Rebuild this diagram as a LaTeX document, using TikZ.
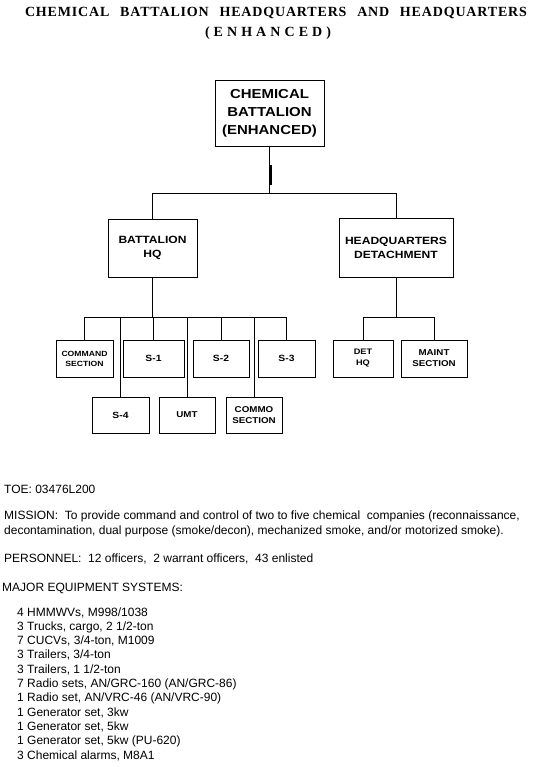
\documentclass[tikz,border=0pt]{standalone}
\usepackage{fontspec}
\setmainfont{Liberation Sans}
\newfontfamily\titlefont{Liberation Serif}[LetterSpace=6]
\newfontfamily\chartfont{Liberation Sans}[FakeStretch=1.15]
\usetikzlibrary{calc}
\newcommand{\setfs}[2]{\fontsize{#1}{#2}\selectfont}
\tikzset{
  orgbox/.style={draw,line width=0.8pt,align=center,inner sep=1pt},   % org chart box
  topbox/.style={orgbox,font=\chartfont\bfseries\setfs{13}{18}},      % battalion
  midbox/.style={orgbox,font=\chartfont\bfseries\setfs{10.5}{14}},    % HQ / detachment
  subbox/.style={orgbox,minimum height=37pt,font=\chartfont\bfseries\setfs{8.5}{11}},
  link/.style={line width=0.8pt},
  txt/.style={anchor=west,inner sep=0pt,align=left,font=\setfs{12}{15}},
  head/.style={inner sep=0pt,font=\titlefont\bfseries\setfs{14}{16}}
}

\begin{document}
\begin{tikzpicture}[x=1pt,y=-1pt]
  \path[use as bounding box,fill=white] (0,0) rectangle (550,767);

  % heading
  \node[head] (title) at (276,13)
    {\makebox[502pt][s]{CHEMICAL BATTALION HEADQUARTERS AND HEADQUARTERS}};
  \node[head] (title2) at (268,33)
    {\makebox[126pt][s]{( E N H A N C E D )}};

  % chart
  \node[topbox,minimum width=109pt,minimum height=66pt] (bn) at (269.5,113)
    {CHEMICAL\\BATTALION\\(ENHANCED)};
  \node[midbox,minimum width=89pt,minimum height=58pt] (bhq) at (152.5,248)
    {BATTALION\\HQ};
  \node[midbox,minimum width=114pt,minimum height=59pt] (hqd) at (396,247.5)
    {HEADQUARTERS\\DETACHMENT};

  \node[subbox,minimum width=57pt,font=\chartfont\bfseries\setfs{7.5}{10}] (cmd) at (84.5,358.5)
    {COMMAND\\SECTION};
  \node[subbox,minimum width=61pt,font=\chartfont\bfseries\setfs{9}{11}] (s1) at (153.5,358.5) {S-1};
  \node[subbox,minimum width=56pt,font=\chartfont\bfseries\setfs{9}{11}] (s2) at (221,358.5) {S-2};
  \node[subbox,minimum width=57pt,font=\chartfont\bfseries\setfs{9}{11}] (s3) at (286.5,358.5) {S-3};
  \node[subbox,minimum width=57pt,minimum height=36pt,font=\chartfont\bfseries\setfs{9}{11}] (s4) at (120.5,415) {S-4};
  \node[subbox,minimum width=56pt,minimum height=36pt,font=\chartfont\bfseries\setfs{8.5}{11}] (umt) at (187,415) {UMT};
  \node[subbox,minimum width=56pt,minimum height=36pt] (commo) at (254,415)
    {COMMO\\SECTION};
  \node[subbox,minimum width=60pt,font=\chartfont\bfseries\setfs{8}{11}] (dethq) at (363,358.5)
    {DET\\HQ};
  \node[subbox,minimum width=66pt] (maint) at (434,358.5)
    {MAINT\\SECTION};

  \coordinate (bus1) at (270,193);
  \coordinate (bus2) at (153,317);
  \coordinate (bus3) at (398,317);
  \coordinate (bar) at (270,165);

  \draw[link] (bn.south) -- (bn.south |- bus1);
  \draw[line width=3pt] (bar) -- ++(0,20);
  \draw[link] (bhq.north) |- (hqd.north |- bus1) -- (hqd.north);

  \draw[link] (bhq.south) -- (bhq.south |- bus2);
  \draw[link] (cmd.north) |- (s3.north |- bus2) -- (s3.north);
  \draw[link] (s1.north) -- (s1.north |- bus2);
  \draw[link] (s2.north) -- (s2.north |- bus2);
  \draw[link] (s4.north) -- (s4.north |- bus2);
  \draw[link] (umt.north) -- (umt.north |- bus2);
  \draw[link] (commo.north) -- (commo.north |- bus2);

  \draw[link] (hqd.south) -- (hqd.south |- bus3);
  \draw[link] (dethq.north) |- (maint.north |- bus3) -- (maint.north);

  % text block
  \node[txt] (toe) at (4,489) {TOE: 03476L200};
  \node[txt] (mission) at (4,523.5)
    {MISSION:\ \ To provide command and control of two to five chemical\ \ companies (reconnaissance,\\
     decontamination, dual purpose (smoke/decon), mechanized smoke, and/or motorized smoke).};
  \node[txt] (pers) at (4,559) {PERSONNEL:\ \ 12 officers,\ \ 2 warrant officers,\ \ 43 enlisted};
  \node[txt] (equip) at (2,588) {MAJOR EQUIPMENT SYSTEMS:};
  \node[txt,font=\setfs{12}{14.3}] (list) at (17,684)
    {4 HMMWVs, M998/1038\\
     3 Trucks, cargo, 2 1/2-ton\\
     7 CUCVs, 3/4-ton, M1009\\
     3 Trailers, 3/4-ton\\
     3 Trailers, 1 1/2-ton\\
     7 Radio sets, AN/GRC-160 (AN/GRC-86)\\
     1 Radio set, AN/VRC-46 (AN/VRC-90)\\
     1 Generator set, 3kw\\
     1 Generator set, 5kw\\
     1 Generator set, 5kw (PU-620)\\
     3 Chemical alarms, M8A1};
\end{tikzpicture}
\end{document}
